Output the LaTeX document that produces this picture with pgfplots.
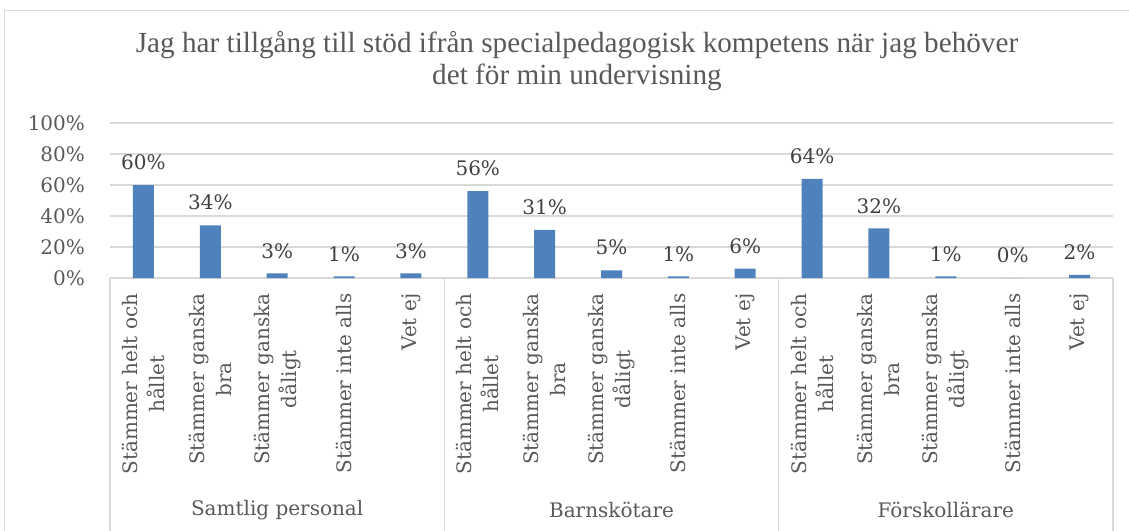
\documentclass[border=0pt]{standalone}
\usepackage{pgfplots}
\pgfplotsset{compat=1.18}
\usepackage{fontspec}
\setmainfont{DejaVu Serif}
\newfontfamily\titlefont{Liberation Serif}
\definecolor{barblue}{HTML}{4F81BD}
\definecolor{txt}{HTML}{595959}
\definecolor{lbl}{HTML}{404040}
\definecolor{gridgray}{HTML}{D9D9D9}

\begin{document}
\begin{tikzpicture}
% chart frame
\draw[gridgray] (-53pt,134pt) rectangle (530pt,-150pt);
\begin{axis}[
  at={(0,0)}, anchor=south west,
  scale only axis, width=501.5pt, height=77.5pt,
  xmin=-0.5, xmax=14.5, ymin=0, ymax=100,
  clip=false,
  ybar, bar width=10.5pt,
  ytick={0,20,...,100},
  yticklabel={\pgfmathprintnumber{\tick}\%},
  /pgf/number format/assume math mode=true,
  y tick label style={font=\fontsize{10}{12}\selectfont, text=txt, xshift=-9pt},
  xtick={0,...,14},
  xticklabels={
    Stämmer helt och\\hållet, Stämmer ganska\\bra, Stämmer ganska\\dåligt, Stämmer inte alls, Vet ej,
    Stämmer helt och\\hållet, Stämmer ganska\\bra, Stämmer ganska\\dåligt, Stämmer inte alls, Vet ej,
    Stämmer helt och\\hållet, Stämmer ganska\\bra, Stämmer ganska\\dåligt, Stämmer inte alls, Vet ej},
  x tick label style={rotate=90, anchor=east, align=center,
    font=\fontsize{10}{13.5}\selectfont, text=txt},
  axis line style={draw=none},
  tick style={draw=none},
  ymajorgrids, grid style={gridgray, line width=0.8pt},
  nodes near coords={\pgfmathprintnumber{\pgfplotspointmeta}\%},
  nodes near coords style={font=\fontsize{10}{12}\selectfont, text=lbl, yshift=4pt},
]
\addplot[fill=barblue, draw=none] coordinates {
  (0,60) (1,34) (2,3) (3,1) (4,3)
  (5,56) (6,31) (7,5) (8,1) (9,6)
  (10,64) (11,32) (12,1) (13,0) (14,2)};
% category separators
\pgfplotsinvokeforeach{-0.5,4.5,9.5,14.5}{
  \draw[gridgray, line width=0.8pt] (axis cs:#1,0) -- ([yshift=-140pt]axis cs:#1,0);
}
\node[text=txt, font=\fontsize{10}{12}\selectfont, yshift=-116pt] at (axis cs:2,0) {Samtlig personal};
\node[text=txt, font=\fontsize{10}{12}\selectfont, yshift=-116pt] at (axis cs:7,0) {Barnskötare};
\node[text=txt, font=\fontsize{10}{12}\selectfont, yshift=-116pt] at (axis cs:12,0) {Förskollärare};
\end{axis}
\node[text=txt, align=center, font=\titlefont\fontsize{14.6}{16}\selectfont] at (233.5pt,108.5pt)
  {Jag har tillgång till stöd ifrån specialpedagogisk kompetens när jag behöver\\det för min undervisning};
\pgfresetboundingbox
\useasboundingbox (-55pt,-126pt) rectangle (509.5pt,139pt);
\end{tikzpicture}
\end{document}
